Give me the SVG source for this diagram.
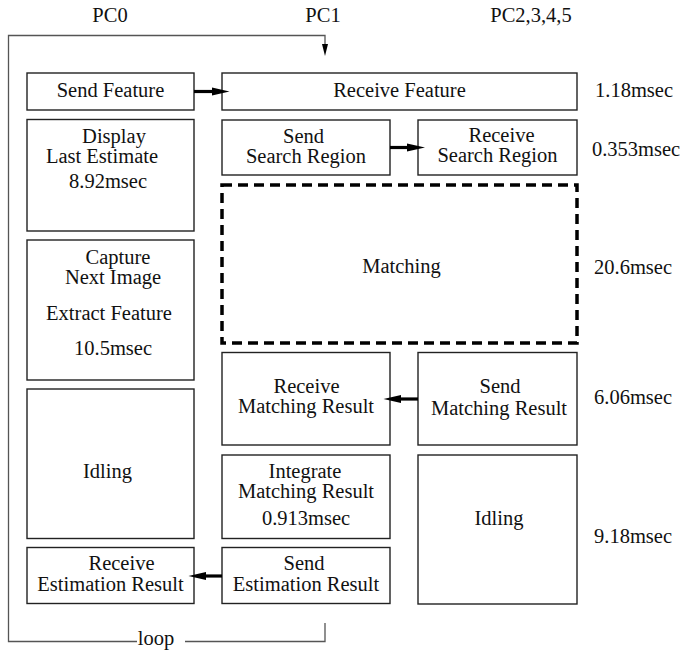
<svg xmlns="http://www.w3.org/2000/svg" width="688" height="650" viewBox="0 0 688 650">
  <defs>
    <style>
      .c { text-anchor: middle; fill: #111; }
      .box { fill: #fff; stroke: #222; stroke-width: 1.4; }
      .dash { fill: #fff; stroke: #000; stroke-width: 3.5; stroke-dasharray: 10 6; }
      .loop { fill: none; stroke: #555; stroke-width: 1.3; }
      .msg { stroke: #000; stroke-width: 3.2; fill: none; }
      .head { fill: #000; }
    </style>
  </defs>

  <!-- column headings -->
  <text class="c" font-family="Liberation Serif" font-size="20.5" x="110" y="22">PC0</text>
  <text class="c" font-family="Liberation Serif" font-size="20.5" x="323" y="22">PC1</text>
  <text class="c" font-family="Liberation Serif" font-size="20.5" x="531" y="22">PC2,3,4,5</text>

  <!-- timing labels -->
  <g id="times">
    <text class="c" font-family="Liberation Serif" font-size="20.5" x="634" y="97">1.18msec</text>
    <text class="c" font-family="Liberation Serif" font-size="20.5" x="636" y="156">0.353msec</text>
    <text class="c" font-family="Liberation Serif" font-size="20.5" x="633" y="274">20.6msec</text>
    <text class="c" font-family="Liberation Serif" font-size="20.5" x="633" y="404">6.06msec</text>
    <text class="c" font-family="Liberation Serif" font-size="20.5" x="633" y="543">9.18msec</text>
  </g>

  <!-- PC0 column -->
  <g id="send-feature">
    <rect class="box" x="27" y="73" width="167" height="37"/>
    <text class="c" font-family="Liberation Serif" font-size="20.5" x="110.5" y="97">Send Feature</text>
  </g>
  <g id="display">
    <rect class="box" x="27" y="119.5" width="167" height="111.5"/>
    <text class="c" font-family="Liberation Serif" font-size="20.5" x="114" y="143">Display</text>
    <text class="c" font-family="Liberation Serif" font-size="20.5" x="102" y="163">Last Estimate</text>
    <text class="c" font-family="Liberation Serif" font-size="20.5" x="108" y="188">8.92msec</text>
  </g>
  <g id="capture">
    <rect class="box" x="27" y="240" width="167" height="140"/>
    <text class="c" font-family="Liberation Serif" font-size="20.5" x="118" y="264">Capture</text>
    <text class="c" font-family="Liberation Serif" font-size="20.5" x="113" y="284">Next Image</text>
    <text class="c" font-family="Liberation Serif" font-size="20.5" x="109" y="320">Extract Feature</text>
    <text class="c" font-family="Liberation Serif" font-size="20.5" x="113" y="355">10.5msec</text>
  </g>
  <g id="idling-pc0">
    <rect class="box" x="27" y="389" width="167" height="149.5"/>
    <text class="c" font-family="Liberation Serif" font-size="20.5" x="107.5" y="478">Idling</text>
  </g>
  <g id="receive-estimation">
    <rect class="box" x="27" y="547.5" width="167" height="56"/>
    <text class="c" font-family="Liberation Serif" font-size="20.5" x="121.5" y="570">Receive</text>
    <text class="c" font-family="Liberation Serif" font-size="20.5" x="110.5" y="590.5">Estimation Result</text>
  </g>

  <!-- PC1 column -->
  <g id="receive-feature">
    <rect class="box" x="222" y="73" width="355" height="37"/>
    <text class="c" font-family="Liberation Serif" font-size="20.5" x="399.5" y="97">Receive Feature</text>
  </g>
  <g id="send-search">
    <rect class="box" x="222" y="120" width="168" height="55"/>
    <text class="c" font-family="Liberation Serif" font-size="20.5" x="303.5" y="142.5">Send</text>
    <text class="c" font-family="Liberation Serif" font-size="20.5" x="306" y="162.5">Search Region</text>
  </g>
  <g id="matching">
    <rect class="dash" x="222" y="185" width="355" height="158"/>
    <text class="c" font-family="Liberation Serif" font-size="20.5" x="401.5" y="272.5">Matching</text>
  </g>
  <g id="receive-matching">
    <rect class="box" x="222" y="352.5" width="168" height="92.5"/>
    <text class="c" font-family="Liberation Serif" font-size="20.5" x="306.5" y="393">Receive</text>
    <text class="c" font-family="Liberation Serif" font-size="20.5" x="306" y="413">Matching Result</text>
  </g>
  <g id="integrate">
    <rect class="box" x="222" y="455" width="168" height="83.5"/>
    <text class="c" font-family="Liberation Serif" font-size="20.5" x="305" y="478">Integrate</text>
    <text class="c" font-family="Liberation Serif" font-size="20.5" x="306" y="498">Matching Result</text>
    <text class="c" font-family="Liberation Serif" font-size="20.5" x="306" y="525">0.913msec</text>
  </g>
  <g id="send-estimation">
    <rect class="box" x="222" y="547.5" width="168" height="56"/>
    <text class="c" font-family="Liberation Serif" font-size="20.5" x="304" y="570">Send</text>
    <text class="c" font-family="Liberation Serif" font-size="20.5" x="306" y="590.5">Estimation Result</text>
  </g>

  <!-- PC2-5 column -->
  <g id="receive-search">
    <rect class="box" x="418" y="120" width="159" height="55"/>
    <text class="c" font-family="Liberation Serif" font-size="20.5" x="501.5" y="142">Receive</text>
    <text class="c" font-family="Liberation Serif" font-size="20.5" x="497.5" y="162">Search Region</text>
  </g>
  <g id="send-matching">
    <rect class="box" x="418" y="352.5" width="159" height="92.5"/>
    <text class="c" font-family="Liberation Serif" font-size="20.5" x="500" y="393">Send</text>
    <text class="c" font-family="Liberation Serif" font-size="20.5" x="499" y="415">Matching Result</text>
  </g>
  <g id="idling-pc2">
    <rect class="box" x="418" y="455" width="159" height="149"/>
    <text class="c" font-family="Liberation Serif" font-size="20.5" x="499" y="525">Idling</text>
  </g>

  <!-- connectors -->
  <g id="connectors">
    <line class="msg" x1="194" y1="91.5" x2="213" y2="91.5"/>
    <path class="head" d="M212,87.5 L229.5,91.5 L212,95.5 Z"/>
    <line class="msg" x1="390" y1="147.5" x2="408" y2="147.5"/>
    <path class="head" d="M407,143.5 L425,147.5 L407,151.5 Z"/>
    <line class="msg" x1="418" y1="399" x2="400" y2="399"/>
    <path class="head" d="M401,395 L383.5,399 L401,403 Z"/>
    <line class="msg" x1="222" y1="576" x2="205" y2="576"/>
    <path class="head" d="M206,572 L188.5,576 L206,580 Z"/>
    <!-- loop back-edge -->
    <path class="loop" d="M325,623 V641.5 H185 M137,641.5 H8.5 V35.5 H325 V50"/>
    <path class="head" d="M322,44 L328,44 L325,56 Z"/>
    <text class="c" font-family="Liberation Serif" font-size="20.5" x="156" y="645">loop</text>
  </g>
</svg>
